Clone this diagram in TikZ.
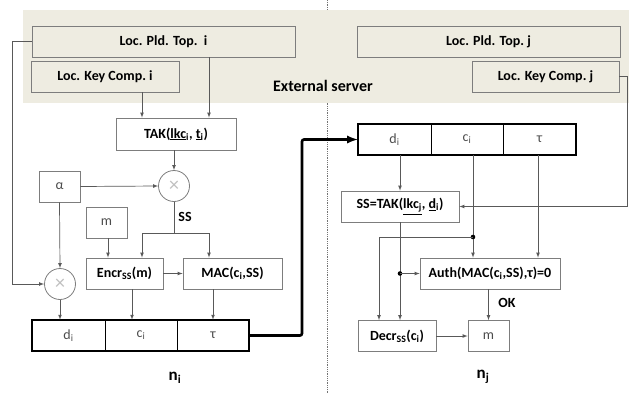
\documentclass[tikz,border=0pt]{standalone}
\usepackage{fontspec}
\setmainfont{Carlito}
\definecolor{server}{RGB}{238,236,225}
\definecolor{boxline}{RGB}{125,125,125}
\begin{document}
\begin{tikzpicture}[>=latex, x=1pt, y=-1pt,
  box/.style={draw=boxline, fill=white, line width=0.8pt, inner sep=0pt,
    minimum height=31pt, font=\fontsize{14}{16}\selectfont\bfseries},
  cell/.style={draw=black, line width=0.6pt, inner sep=0pt, minimum height=31pt,
    font=\fontsize{14}{16}\selectfont, text=black!70},
  mult/.style={circle, draw=boxline, fill=white, line width=0.8pt, minimum size=31pt,
    inner sep=0pt, font=\fontsize{20}{20}\selectfont, text=black!25},
  wire/.style={draw=black!65, line width=0.7pt},
  lbl/.style={font=\fontsize{14}{16}\selectfont\bfseries}]

\useasboundingbox (0,0) rectangle (629,394);

\draw [densely dotted, black!55, line width=0.8pt] (327,0) -- (327,394);
\fill [server] (23,10) rectangle (629,103);

% external server
\node[box, fill=server, minimum width=263pt] (lpt_i) at (163.5,41.5) {Loc. Pld. Top.\ \ i};
\node[box, fill=server, minimum width=148pt] (lkc_i) at (105,76.5) {Loc. Key Comp.\ i};
\node[box, fill=server, minimum width=263pt] (lpt_j) at (488.5,41.5) {Loc. Pld. Top.\ j};
\node[box, fill=server, minimum width=147pt] (lkc_j) at (545.5,76.5) {Loc. Key Comp.\ j};
\node[font=\fontsize{16}{18}\selectfont\bfseries] (server) at (323,86) {External server};

% node i
\node[box, minimum width=120pt, minimum height=32pt] (tak_i) at (176,134) {TAK(\underline{lkc}\textsubscript{i}, \underline{t}\textsubscript{i})};
\node[box, font=\fontsize{14}{16}\selectfont, text=black!70, minimum width=41pt] (alpha) at (59.5,186.5) {α};
\node[mult] (mul_A) at (174,186) {×};
\node[box, font=\fontsize{14}{16}\selectfont, text=black!70, minimum width=41pt] (m_i) at (106.5,222.5) {m};
\node[box, minimum width=77pt] (encr) at (124.5,273.5) {Encr\textsubscript{SS}(m)};
\node[box, minimum width=99pt] (mac) at (232.5,273.5) {MAC(c\textsubscript{i},SS)};
\node[mult] (mul_B) at (60,284) {×};

\node[cell, minimum width=73pt] (d_i) at (68.5,335.5) {d\textsubscript{i}};
\node[cell, minimum width=72pt] (c_i) at (141,335.5) {c\textsubscript{i}};
\node[cell, minimum width=72pt] (tau_i) at (213,335.5) {τ};
\draw [line width=1.8pt] (d_i.north west) rectangle (tau_i.south east);
\node[font=\fontsize{17}{19}\selectfont\bfseries] (n_i) at (175,378) {n\textsubscript{i}};

\draw [wire, ->] ([xshift=37pt]lkc_i.south) -- ([xshift=37pt]lkc_i.south |- tak_i.north);
\draw [wire, ->] (209,0 |- lpt_i.south) -- (209,0 |- tak_i.north);
\draw [wire, ->] (tak_i.south -| mul_A) -- (mul_A.north);
\draw [wire, ->] (alpha.east) -- (mul_A.west);
\draw [wire, ->] (alpha.south) -- (mul_B.north);
\draw [wire, ->] (lpt_i.west) -- (12,0 |- lpt_i.west) |- (mul_B.west);
\draw [wire] (mul_A.south) -- (174,233) coordinate (ss);
\node[lbl] (ss_lbl) at (185,217) {SS};
\draw [wire, ->] (ss) -| (142,0 |- encr.north);
\draw [wire, ->] (ss) -| (209,0 |- mac.north);
\draw [wire, ->] (108,0 |- m_i.south) -- (108,0 |- encr.north);
\draw [wire, ->] (encr.east) -- (mac.west);
\draw [wire, ->] (mul_B.south) -- (mul_B |- d_i.north);
\draw [wire, ->] (132,0 |- encr.south) -- (132,0 |- c_i.north);
\draw [wire, ->] (213,0 |- mac.south) -- (213,0 |- tau_i.north);

% node j
\node[cell, minimum width=73pt] (d_j) at (394.5,139.5) {d\textsubscript{i}};
\node[cell, minimum width=72pt] (c_j) at (467,139.5) {c\textsubscript{i}};
\node[cell, minimum width=73pt] (tau_j) at (539.5,139.5) {τ};
\draw [line width=1.8pt] (d_j.north west) rectangle (tau_j.south east);

\draw [->, line width=2.6pt, rounded corners=2pt] (tau_i.east) -- (302,0 |- tau_i.east) |- (d_j.west);

\node[box, minimum width=118pt] (sstak) at (400,206.5) {SS=TAK(\underline{lkc\textsubscript{j}}, \underline{d}\textsubscript{i})};
\node[box, minimum width=140pt] (auth) at (490,273.5) {Auth(MAC(c\textsubscript{i},SS),τ)=0};
\node[box, minimum width=78pt] (decr) at (397,336) {Decr\textsubscript{SS}(c\textsubscript{i})};
\node[box, font=\fontsize{14}{16}\selectfont, text=black!70, minimum width=41pt] (m_j) at (488.5,336) {m};
\node[font=\fontsize{17}{19}\selectfont\bfseries] (n_j) at (483,377) {n\textsubscript{j}};

\draw [wire, ->] (sstak.north |- d_j.south) -- (sstak.north);
\draw [wire, ->] (473,0 |- c_j.south) -- (473,0 |- auth.north);
\draw [wire, ->] (538,0 |- tau_j.south) -- (538,0 |- auth.north);
\fill [black] (473,237) circle (2.3pt) coordinate (dot_c);
\draw [wire, ->] (dot_c) -| (379,0 |- decr.north);
\draw [wire, ->] (sstak.south) -- (sstak.south |- decr.north);
\fill [black] (sstak.south |- auth.west) circle (2.3pt) coordinate (dot_ss);
\draw [wire, ->] (dot_ss) -- (auth.west);
\draw [wire, ->] (lkc_j.east) -- (627,0 |- lkc_j.east) |- (sstak.east);
\draw [wire, ->] (auth.south -| m_j) -- (m_j.north);
\node[lbl] (ok) at (507,303) {OK};
\draw [wire, ->] (decr.east) -- (m_j.west);

\end{tikzpicture}
\end{document}
